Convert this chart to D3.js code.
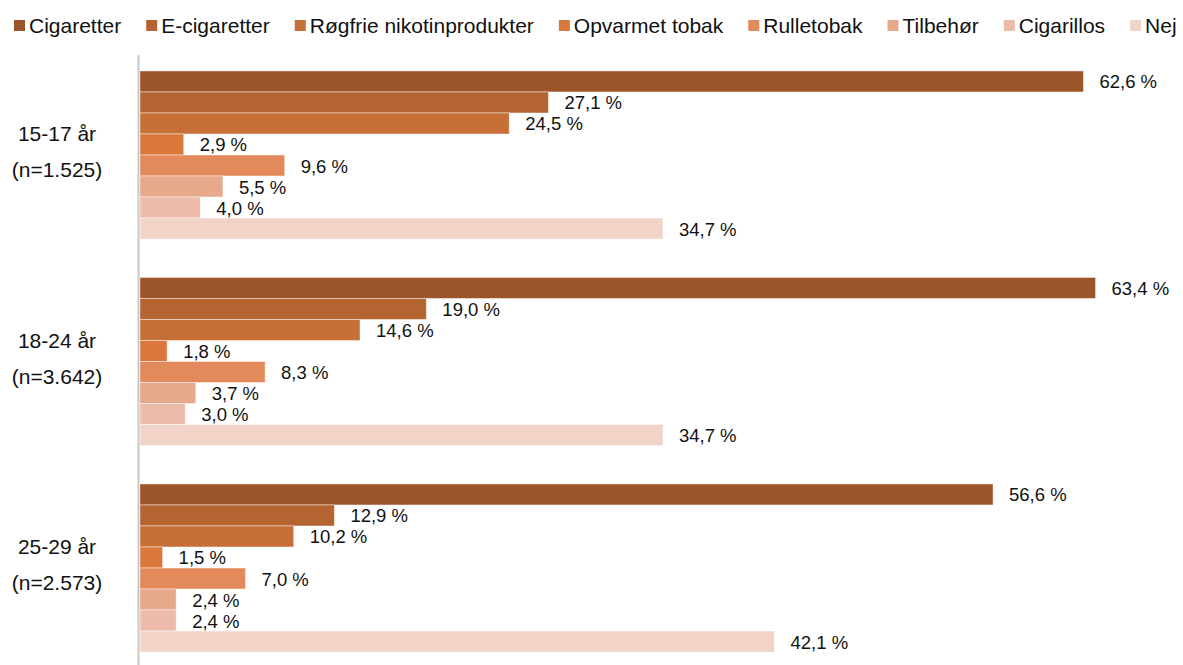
<!DOCTYPE html>
<html>
<head>
<meta charset="utf-8">
<script src="https://cdn.jsdelivr.net/npm/d3@7"></script>
<style>
  html, body { margin: 0; padding: 0; background: #fff; }
  svg { display: block; font-family: Arial, "Liberation Sans", sans-serif; }
</style>
</head>
<body>
<svg id="chart" width="1183" height="665"></svg>
<script>
// Age groups (two-line labels)
const groups = ["15-17 år", "18-24 år", "25-29 år"];
const groupCounts = ["(n=1.525)", "(n=3.642)", "(n=2.573)"];

// Product series
const series = ["Cigaretter", "E-cigaretter", "Røgfrie nikotinprodukter", "Opvarmet tobak",
                "Rulletobak", "Tilbehør", "Cigarillos", "Nej"];
const colors = ["#9C5429", "#B46431", "#C66F36", "#DA783B", "#E28A5C", "#E8A88B", "#ECBBA9", "#F1D3C7"];

// Share (%) per group, in series order
const values15_17 = [62.6, 27.1, 24.5, 2.9, 9.6, 5.5, 4.0, 34.7];
const values18_24 = [63.4, 19.0, 14.6, 1.8, 8.3, 3.7, 3.0, 34.7];
const values25_29 = [56.6, 12.9, 10.2, 1.5, 7.0, 2.4, 2.4, 42.1];
const groupValues = [values15_17, values18_24, values25_29];

const svg = d3.select("#chart");

const x = d3.scaleLinear().domain([0, 70]).range([140, 1195]);
const y = d3.scaleBand().domain(groups).range([51.75, 671.25])
  .paddingInner(0.186).paddingOuter(0.093);
const yInner = d3.scaleBand().domain(series).range([0, y.bandwidth()]);
const color = d3.scaleOrdinal().domain(series).range(colors);

const fmt = v => d3.format(".1f")(v).replace(".", ",") + " %";

// Bars + value labels
groups.forEach((g, gi) => {
  const gEl = svg.append("g").attr("transform", `translate(0,${y(g)})`);
  const rows = series.map((s, si) => ({ s, v: groupValues[gi][si] }));
  gEl.selectAll("rect").data(rows).join("rect")
    .attr("x", x(0))
    .attr("y", d => yInner(d.s))
    .attr("width", d => x(d.v) - x(0))
    .attr("height", yInner.bandwidth())
    .attr("fill", d => color(d.s))
    .attr("stroke", "rgba(255,255,255,0.45)")
    .attr("stroke-width", 1);
  gEl.selectAll("text").data(rows).join("text")
    .attr("x", d => x(d.v) + 16)
    .attr("y", d => yInner(d.s) + yInner.bandwidth() / 2 + 7)
    .attr("font-size", "18.5px")
    .attr("fill", "#111")
    .text(d => fmt(d.v));
});

// Category axis line
svg.append("line")
  .attr("x1", 138.5).attr("x2", 138.5)
  .attr("y1", 55).attr("y2", 665)
  .attr("stroke", "#c8c8c8").attr("stroke-width", 2);

// Category labels
groups.forEach((g, gi) => {
  const cy = y(g) + y.bandwidth() / 2;
  const t = svg.append("text").attr("text-anchor", "middle")
    .attr("font-size", "21px").attr("fill", "#111");
  t.append("tspan").attr("x", 57).attr("y", cy - 14).text(g);
  t.append("tspan").attr("x", 57).attr("y", cy + 22).text(groupCounts[gi]);
});

// Legend
const legend = svg.append("g");
let lx = 14;
series.forEach(s => {
  legend.append("rect").attr("x", lx).attr("y", 20).attr("width", 11).attr("height", 11)
    .attr("fill", color(s));
  const t = legend.append("text").attr("x", lx + 15).attr("y", 33)
    .attr("font-size", "21px").attr("fill", "#111").text(s);
  lx += 15 + t.node().getComputedTextLength() + 25;
});
</script>
</body>
</html>
